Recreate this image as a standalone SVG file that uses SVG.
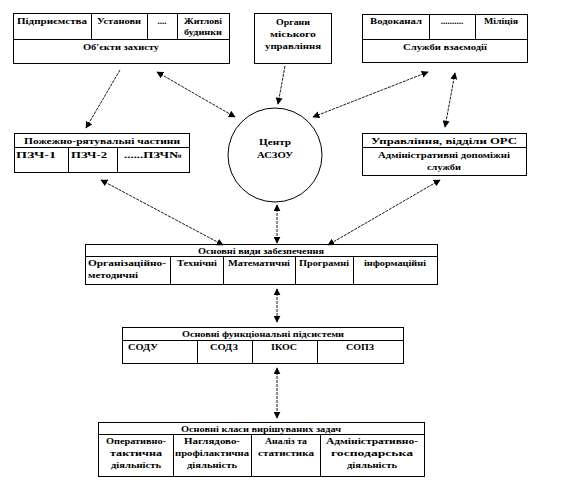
<svg xmlns="http://www.w3.org/2000/svg" width="578" height="493" viewBox="0 0 578 493">
<style>
.b{fill:#fff;stroke:#000;stroke-width:1}
.l{stroke:#000;stroke-width:1;fill:none}
.t{font-family:"Liberation Serif","Times New Roman",serif;font-weight:bold;font-size:9px;fill:#000;text-anchor:middle}
.s{text-anchor:start}
.c{stroke:#000;stroke-width:0.9;fill:none;stroke-dasharray:3 1}
</style>
<defs>
<marker id="a" viewBox="0 0 10 10" refX="9" refY="5" markerWidth="7" markerHeight="7" orient="auto-start-reverse" markerUnits="userSpaceOnUse">
<path d="M0,0 L10,5 L0,10 z" fill="#000"/>
</marker>
</defs>
<rect width="578" height="493" fill="#fff"/>
<g id="obiekty">
<rect class="b" x="13.5" y="13.5" width="216" height="50"/>
<line class="l" x1="13.5" y1="39.5" x2="229.5" y2="39.5"/>
<line class="l" x1="91.5" y1="13.5" x2="91.5" y2="39.5"/>
<line class="l" x1="147.5" y1="13.5" x2="147.5" y2="39.5"/>
<line class="l" x1="177.5" y1="13.5" x2="177.5" y2="39.5"/>
<text class="t" x="52" y="24" textLength="70" lengthAdjust="spacingAndGlyphs">Підприємства</text>
<text class="t" x="119" y="24" textLength="44" lengthAdjust="spacingAndGlyphs">Установи</text>
<text class="t" x="162" y="24">....</text>
<text class="t" x="203" y="24" textLength="38" lengthAdjust="spacingAndGlyphs">Житлові</text>
<text class="t" x="203" y="35" textLength="38" lengthAdjust="spacingAndGlyphs">будинки</text>
<text class="t" x="121" y="50" textLength="76" lengthAdjust="spacingAndGlyphs">Об'єкти захисту</text>
</g>
<g id="organy">
<rect class="b" x="254.5" y="13.5" width="77" height="50"/>
<text class="t" x="293" y="25" textLength="34" lengthAdjust="spacingAndGlyphs">Органи</text>
<text class="t" x="293" y="37" textLength="46" lengthAdjust="spacingAndGlyphs">міського</text>
<text class="t" x="293" y="49" textLength="56" lengthAdjust="spacingAndGlyphs">управління</text>
</g>
<g id="sluzhby">
<rect class="b" x="362.5" y="14.5" width="165" height="48"/>
<line class="l" x1="362.5" y1="39.5" x2="527.5" y2="39.5"/>
<line class="l" x1="429.5" y1="14.5" x2="429.5" y2="39.5"/>
<line class="l" x1="475.5" y1="14.5" x2="475.5" y2="39.5"/>
<text class="t" x="396" y="24" textLength="52" lengthAdjust="spacingAndGlyphs">Водоканал</text>
<text class="t" x="452" y="24">..........</text>
<text class="t" x="501" y="24" textLength="34" lengthAdjust="spacingAndGlyphs">Міліція</text>
<text class="t" x="445" y="50" textLength="84" lengthAdjust="spacingAndGlyphs">Служби взаємодії</text>
</g>
<g id="pzch">
<rect class="b" x="14.5" y="133.5" width="175" height="39"/>
<line class="l" x1="14.5" y1="147.5" x2="189.5" y2="147.5"/>
<line class="l" x1="68.5" y1="147.5" x2="68.5" y2="172.5"/>
<line class="l" x1="117.5" y1="147.5" x2="117.5" y2="172.5"/>
<text class="t" x="102" y="144" textLength="156" lengthAdjust="spacingAndGlyphs">Пожежно-рятувальні частини</text>
<text class="t" x="36" y="158" textLength="40" lengthAdjust="spacingAndGlyphs">ПЗЧ-1</text>
<text class="t" x="89" y="158" textLength="36" lengthAdjust="spacingAndGlyphs">ПЗЧ-2</text>
<text class="t" x="153" y="158" textLength="58" lengthAdjust="spacingAndGlyphs">......ПЗЧ№</text>
</g>
<g id="centr">
<circle class="b" cx="275" cy="155" r="47"/>
<text class="t" x="275" y="145" textLength="32" lengthAdjust="spacingAndGlyphs">Центр</text>
<text class="t" x="275" y="158" textLength="36" lengthAdjust="spacingAndGlyphs">АСЗОУ</text>
</g>
<g id="upravlinnia">
<rect class="b" x="362.5" y="133.5" width="164" height="42"/>
<line class="l" x1="362.5" y1="147.5" x2="526.5" y2="147.5"/>
<text class="t" x="444" y="144" textLength="146" lengthAdjust="spacingAndGlyphs">Управління, відділи ОРС</text>
<text class="t" x="444" y="158" textLength="132" lengthAdjust="spacingAndGlyphs">Адміністративні допоміжні</text>
<text class="t" x="444" y="170" textLength="34" lengthAdjust="spacingAndGlyphs">служби</text>
</g>
<g id="vydy">
<rect class="b" x="85.5" y="244.5" width="352" height="40"/>
<line class="l" x1="85.5" y1="256.5" x2="437.5" y2="256.5"/>
<line class="l" x1="170.5" y1="256.5" x2="170.5" y2="284.5"/>
<line class="l" x1="223.5" y1="256.5" x2="223.5" y2="284.5"/>
<line class="l" x1="295.5" y1="256.5" x2="295.5" y2="284.5"/>
<line class="l" x1="353.5" y1="256.5" x2="353.5" y2="284.5"/>
<text class="t" x="261" y="254" textLength="126" lengthAdjust="spacingAndGlyphs">Основні види забезпечення</text>
<text class="t s" x="88" y="266" textLength="78" lengthAdjust="spacingAndGlyphs">Організаційно-</text>
<text class="t s" x="88" y="278" textLength="50" lengthAdjust="spacingAndGlyphs">методичні</text>
<text class="t" x="197" y="266" textLength="40" lengthAdjust="spacingAndGlyphs">Технічні</text>
<text class="t" x="259" y="266" textLength="62" lengthAdjust="spacingAndGlyphs">Математичні</text>
<text class="t" x="324" y="266" textLength="50" lengthAdjust="spacingAndGlyphs">Програмні</text>
<text class="t" x="395" y="266" textLength="62" lengthAdjust="spacingAndGlyphs">інформаційні</text>
</g>
<g id="pidsystemy">
<rect class="b" x="122.5" y="327.5" width="281" height="36"/>
<line class="l" x1="122.5" y1="340.5" x2="403.5" y2="340.5"/>
<line class="l" x1="197.5" y1="340.5" x2="197.5" y2="363.5"/>
<line class="l" x1="252.5" y1="340.5" x2="252.5" y2="363.5"/>
<line class="l" x1="317.5" y1="340.5" x2="317.5" y2="363.5"/>
<text class="t" x="263" y="337" textLength="162" lengthAdjust="spacingAndGlyphs">Основні функціональні підсистеми</text>
<text class="t" x="143" y="350" textLength="30" lengthAdjust="spacingAndGlyphs">СОДУ</text>
<text class="t" x="224" y="350" textLength="28" lengthAdjust="spacingAndGlyphs">СОДЗ</text>
<text class="t" x="284" y="350" textLength="26" lengthAdjust="spacingAndGlyphs">ІКОС</text>
<text class="t" x="360" y="350" textLength="28" lengthAdjust="spacingAndGlyphs">СОПЗ</text>
</g>
<g id="klasy">
<rect class="b" x="98.5" y="422.5" width="326" height="54"/>
<line class="l" x1="98.5" y1="434.5" x2="424.5" y2="434.5"/>
<line class="l" x1="173.5" y1="434.5" x2="173.5" y2="476.5"/>
<line class="l" x1="251.5" y1="434.5" x2="251.5" y2="476.5"/>
<line class="l" x1="320.5" y1="434.5" x2="320.5" y2="476.5"/>
<text class="t" x="261" y="432" textLength="160" lengthAdjust="spacingAndGlyphs">Основні класи вирішуваних задач</text>
<text class="t" x="136" y="444" textLength="60" lengthAdjust="spacingAndGlyphs">Оперативно-</text>
<text class="t" x="136" y="456" textLength="52" lengthAdjust="spacingAndGlyphs">тактична</text>
<text class="t" x="136" y="468" textLength="50" lengthAdjust="spacingAndGlyphs">діяльність</text>
<text class="t" x="212" y="444" textLength="56" lengthAdjust="spacingAndGlyphs">Наглядово-</text>
<text class="t" x="212" y="456" textLength="74" lengthAdjust="spacingAndGlyphs">профілактична</text>
<text class="t" x="212" y="468" textLength="50" lengthAdjust="spacingAndGlyphs">діяльність</text>
<text class="t" x="286" y="444" textLength="42" lengthAdjust="spacingAndGlyphs">Аналіз та</text>
<text class="t" x="286" y="456" textLength="56" lengthAdjust="spacingAndGlyphs">статистика</text>
<text class="t" x="372" y="444" textLength="92" lengthAdjust="spacingAndGlyphs">Адміністративно-</text>
<text class="t" x="372" y="456" textLength="82" lengthAdjust="spacingAndGlyphs">господарська</text>
<text class="t" x="372" y="468" textLength="50" lengthAdjust="spacingAndGlyphs">діяльність</text>
</g>
<g id="connectors">
<line class="c" x1="120" y1="70" x2="86" y2="128" marker-end="url(#a)"/>
<line class="c" x1="157" y1="72" x2="235" y2="117" marker-start="url(#a)" marker-end="url(#a)"/>
<line class="c" x1="285" y1="66" x2="278" y2="104" marker-end="url(#a)"/>
<line class="c" x1="428" y1="72" x2="313" y2="117" marker-start="url(#a)" marker-end="url(#a)"/>
<line class="c" x1="455" y1="73" x2="445" y2="127" marker-start="url(#a)" marker-end="url(#a)"/>
<line class="c" x1="101" y1="180" x2="223" y2="245" marker-start="url(#a)" marker-end="url(#a)"/>
<line class="c" x1="277" y1="205" x2="277" y2="243" marker-start="url(#a)" marker-end="url(#a)"/>
<line class="c" x1="440" y1="180" x2="328" y2="245" marker-start="url(#a)" marker-end="url(#a)"/>
<line class="c" x1="277" y1="289" x2="277" y2="322" marker-start="url(#a)" marker-end="url(#a)"/>
<line class="c" x1="277" y1="368" x2="277" y2="418" marker-start="url(#a)" marker-end="url(#a)"/>
</g>
</svg>
